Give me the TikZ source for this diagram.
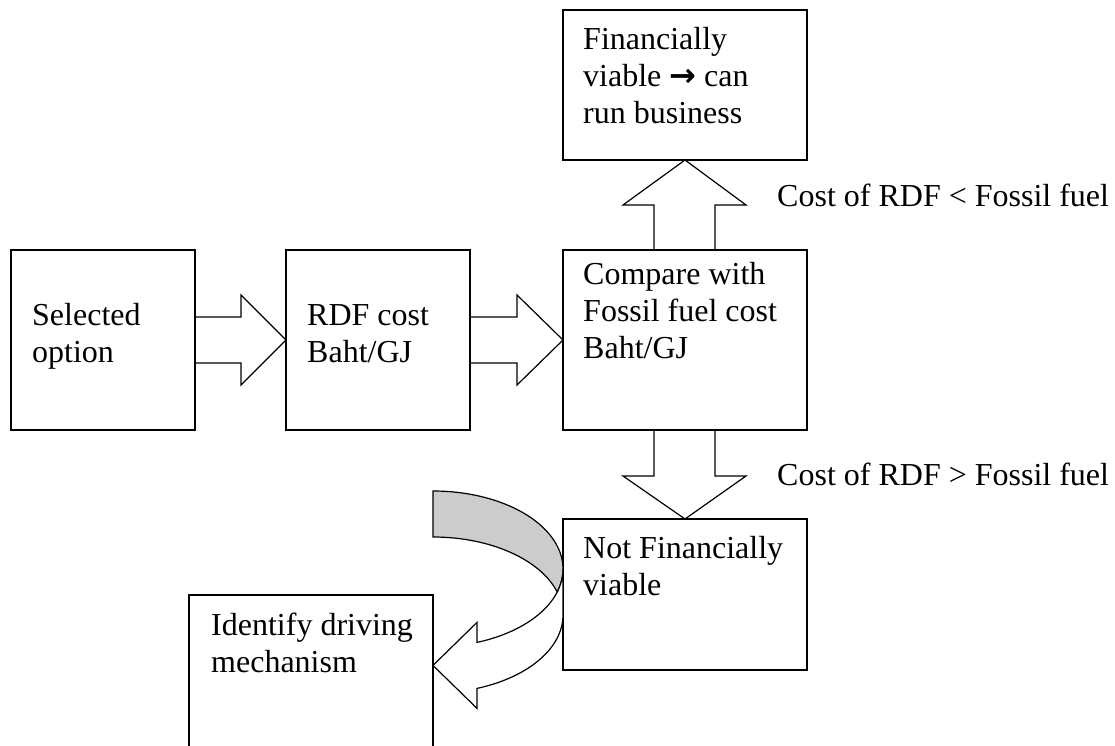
\documentclass[tikz,border=0pt]{standalone}
\usepackage{fontspec}
\setmainfont{Liberation Serif}
\newfontfamily\symf{DejaVu Sans}
\usetikzlibrary{calc}
\begin{document}
\begin{tikzpicture}[x=1pt,y=1pt,
  box/.style={draw, line width=1.2pt, rectangle, inner sep=0pt, outer sep=0pt},
  txt/.style={anchor=base west, inner sep=0pt, align=left, font=\fontsize{32}{37}\selectfont},
  barrow/.style={draw, line width=1.2pt, line join=miter},
  curve/.style={draw, line width=1.2pt, line join=miter}]
\clip (0,0) rectangle (1115,745);
\fill[white] (0,0) rectangle (1115,745);

% boxes
\node[box, minimum width=184pt, minimum height=180pt] (sel) at (103,405) {};
\node[box, minimum width=184pt, minimum height=180pt] (rdf) at (378,405) {};
\node[box, minimum width=244pt, minimum height=180pt] (cmp) at (685,405) {};
\node[box, minimum width=244pt, minimum height=150pt] (fv) at (685,660) {};
\node[box, minimum width=244pt, minimum height=151pt] (nfv) at (685,150.5) {};
\node[box, minimum width=244pt, minimum height=180pt] (idm) at (311,60) {};

% block arrows
\draw[barrow] ($(sel.east)+(0,23)$) -- ($(rdf.west)+(-45,23)$) -- ($(rdf.west)+(-45,45)$) -- (rdf.west)
  -- ($(rdf.west)+(-45,-45)$) -- ($(rdf.west)+(-45,-23)$) -- ($(sel.east)+(0,-23)$);
\draw[barrow] ($(rdf.east)+(0,23)$) -- ($(cmp.west)+(-46,23)$) -- ($(cmp.west)+(-46,45)$) -- (cmp.west)
  -- ($(cmp.west)+(-46,-45)$) -- ($(cmp.west)+(-46,-23)$) -- ($(rdf.east)+(0,-23)$);
\draw[barrow] ($(cmp.north)+(-31,0)$) -- ($(fv.south)+(-31,-45)$) -- ($(fv.south)+(-62,-45)$) -- (fv.south)
  -- ($(fv.south)+(61,-45)$) -- ($(fv.south)+(30,-45)$) -- ($(cmp.north)+(30,0)$);
\draw[barrow] ($(cmp.south)+(-31,0)$) -- ($(nfv.north)+(-31,43)$) -- ($(nfv.north)+(-62,43)$) -- (nfv.north)
  -- ($(nfv.north)+(61,43)$) -- ($(nfv.north)+(30,43)$) -- ($(cmp.south)+(30,0)$);

% curved arrow from nfv to idm
\coordinate (ctail) at (433,254);
\coordinate (tip) at ($(idm.north east)+(0,-70.4)$);
\coordinate (hu) at (477,122.6);
\coordinate (hui) at (477,102.6);
\coordinate (hli) at (477,56.6);
\coordinate (hl) at (477,36.6);
\filldraw[curve, fill=gray!40] (ctail) arc[start angle=90, end angle=-17.15, x radius=130pt, y radius=78pt]
  arc[start angle=17.15, end angle=90, x radius=130pt, y radius=78pt] -- cycle;
\filldraw[curve, fill=white] (tip) -- (hu) -- (hui)
  arc[start angle=-70.21, end angle=0, x radius=130pt, y radius=78pt] -- ++(0,-46)
  arc[start angle=0, end angle=-70.21, x radius=130pt, y radius=78pt] -- (hl) -- cycle;

% texts (base anchor = baseline of last line)
\node[txt] (tsel) at (32,382) {Selected\\option};
\node[txt] (trdf) at (307,382) {RDF cost\\Baht/GJ};
\node[txt] (tcmp) at (583,386) {Compare with\\Fossil fuel cost\\Baht/GJ};
\node[txt] (tfv) at (583,621) {Financially\\viable {\symf\bfseries →} can\\run business};
\node[txt] (tnfv) at (583,150) {Not Financially\\viable};
\node[txt] (tidm) at (211,73) {Identify driving\\mechanism};
\node[txt] (lup) at (777,538) {Cost of RDF < Fossil fuel};
\node[txt] (ldn) at (777,260) {Cost of RDF > Fossil fuel};
\end{tikzpicture}
\end{document}
